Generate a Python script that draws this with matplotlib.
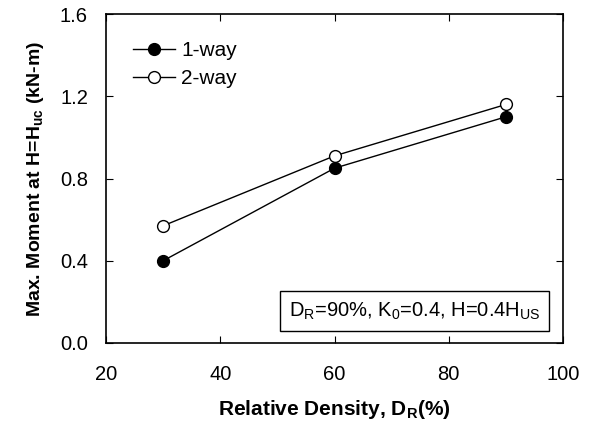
import matplotlib.pyplot as plt

density = [30, 60, 90]
one_way = [0.40, 0.85, 1.10]
two_way = [0.57, 0.91, 1.16]

plt.rcParams['font.family'] = ['Liberation Sans', 'DejaVu Sans']
plt.rcParams['mathtext.fontset'] = 'custom'
plt.rcParams['mathtext.rm'] = 'Liberation Sans'
plt.rcParams['mathtext.bf'] = 'Liberation Sans:bold'

fig = plt.figure(figsize=(5.92, 4.32), dpi=100)
ax = fig.add_axes([106 / 592, 1 - 343 / 432, (563 - 106) / 592, (343 - 14) / 432])

ax.plot(density, one_way, '-o', color='black', markerfacecolor='black',
        markersize=8.5, linewidth=1, label='1-way')
ax.plot(density, two_way, '-o', color='black', markerfacecolor='white',
        markersize=8.5, linewidth=1, label='2-way')

ax.set_xlim(20, 100)
ax.set_ylim(0, 1.6)
ax.set_xticks([20, 40, 60, 80, 100])
ax.set_yticks([0.0, 0.4, 0.8, 1.2, 1.6])
ax.set_yticklabels(['0.0', '0.4', '0.8', '1.2', '1.6'])
ax.tick_params(direction='in', top=True, right=True, labelsize=14.5, length=5)
ax.tick_params(axis='x', pad=16)
ax.tick_params(axis='y', pad=13)
for s in ax.spines.values():
    s.set_linewidth(1.2)

ax.set_xlabel(r'Relative Density, D$_{\mathbf{R}}$(%)', fontsize=15, fontweight='bold', labelpad=10)
ax.set_ylabel(r'Max. Moment at H=H$_{\mathbf{uc}}$ (kN-m)', fontsize=14, fontweight='bold', labelpad=10)

ax.legend(loc='upper left', frameon=False, fontsize=15, handlelength=2.0,
          handletextpad=0.3, borderaxespad=0.9, labelspacing=0.45,
          borderpad=0.4)

ax.text(0.95, 0.065, r'D$_\mathrm{R}$=90%, K$_0$=0.4, H=0.4H$_\mathrm{US}$',
        transform=ax.transAxes, ha='right', va='bottom', fontsize=14.5,
        bbox=dict(boxstyle='square,pad=0.45', facecolor='white', edgecolor='black', linewidth=1))

fig.savefig('out.png', dpi=100)
